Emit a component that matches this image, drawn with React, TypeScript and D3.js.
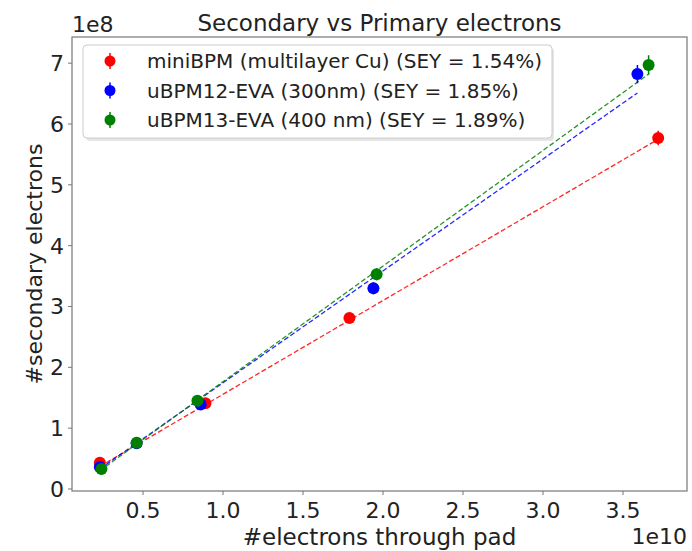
import React from 'react';
import * as d3 from 'd3';

// x in units of 1e10, y in units of 1e8
const redX = [0.23, 0.89, 1.79, 3.72];
const redY = [0.43, 1.41, 2.81, 5.77];
const redErr = [0.03, 0.05, 0.08, 0.12];

const blueX = [0.23, 0.46, 0.86, 1.94, 3.59];
const blueY = [0.36, 0.75, 1.39, 3.30, 6.82];
const blueErr = [0.03, 0.04, 0.06, 0.1, 0.15];

const greenX = [0.24, 0.46, 0.84, 1.96, 3.66];
const greenY = [0.33, 0.76, 1.45, 3.53, 6.97];
const greenErr = [0.03, 0.04, 0.06, 0.1, 0.16];

// fitted lines, endpoints
const redFit = [[0.23, 0.37], [3.72, 5.75]];
const blueFit = [[0.23, 0.33], [3.59, 6.51]];
const greenFit = [[0.23, 0.30], [3.66, 6.82]];

const labels = [
  'miniBPM (multilayer Cu) (SEY = 1.54%)',
  'uBPM12-EVA (300nm) (SEY = 1.85%)',
  'uBPM13-EVA (400 nm) (SEY = 1.89%)',
];

const xTicks = [0.5, 1.0, 1.5, 2.0, 2.5, 3.0, 3.5];
const yTicks = [0, 1, 2, 3, 4, 5, 6, 7];

const W = 692, H = 551;
const left = 72, right = 687, top = 37, bottom = 491;
const font = 'DejaVu Sans, sans-serif';
const txt = '#222';
const frame = '#777';

const x = d3.scaleLinear().domain([0.056, 3.9]).range([left, right]);
const y = d3.scaleLinear().domain([-0.033, 7.43]).range([bottom, top]);
const line = d3.line<number[]>().x(d => x(d[0])).y(d => y(d[1]));

const series = [
  { xs: redX, ys: redY, err: redErr, fit: redFit, color: 'red' },
  { xs: blueX, ys: blueY, err: blueErr, fit: blueFit, color: 'blue' },
  { xs: greenX, ys: greenY, err: greenErr, fit: greenFit, color: 'green' },
];

export default function App() {
  return (
    <svg width={W} height={H} style={{ position: 'absolute', left: 0, top: 0, background: '#fff' }}>
      <rect x={0} y={0} width={W} height={H} fill="#fff" />
      <text x={(left + right) / 2} y={31} textAnchor="middle" fontFamily={font} fontSize={23} fill={txt}>
        Secondary vs Primary electrons
      </text>
      <text x={left} y={32} fontFamily={font} fontSize={22} fill={txt}>1e8</text>

      {/* fit lines */}
      {series.map((s, i) => (
        <path key={'f' + i} d={line(s.fit) || ''} fill="none" stroke={s.color}
          strokeWidth={1.3} strokeDasharray="5 2.5" opacity={0.85} />
      ))}

      {/* points with error bars */}
      {series.map((s, i) => (
        <g key={'p' + i}>
          {s.xs.map((xv, j) => (
            <g key={j}>
              <line x1={x(xv)} x2={x(xv)} y1={y(s.ys[j] - s.err[j])} y2={y(s.ys[j] + s.err[j])}
                stroke={s.color} strokeWidth={1.5} />
              <circle cx={x(xv)} cy={y(s.ys[j])} r={6} fill={s.color} />
            </g>
          ))}
        </g>
      ))}

      {/* frame */}
      <rect x={left} y={top} width={right - left} height={bottom - top} fill="none" stroke={frame} strokeWidth={1.2} />

      {/* x axis */}
      {xTicks.map(t => (
        <g key={'x' + t}>
          <line x1={x(t)} x2={x(t)} y1={bottom} y2={bottom + 4} stroke={frame} />
          <text x={x(t)} y={518} textAnchor="middle" fontFamily={font} fontSize={22} fill={txt}>
            {t.toFixed(1)}
          </text>
        </g>
      ))}
      <text x={(left + right) / 2} y={545} textAnchor="middle" fontFamily={font} fontSize={23} fill={txt}>
        #electrons through pad
      </text>
      <text x={right} y={544} textAnchor="end" fontFamily={font} fontSize={22} fill={txt}>1e10</text>

      {/* y axis */}
      {yTicks.map(t => (
        <g key={'y' + t}>
          <line x1={left - 4} x2={left} y1={y(t)} y2={y(t)} stroke={frame} />
          <text x={left - 8} y={y(t) + 8} textAnchor="end" fontFamily={font} fontSize={22} fill={txt}>
            {t}
          </text>
        </g>
      ))}
      <text transform={`translate(42,${(top + bottom) / 2}) rotate(-90)`} textAnchor="middle"
        fontFamily={font} fontSize={22} fill={txt}>
        #secondary electrons
      </text>

      {/* legend */}
      <rect x={86} y={48} width={468} height={93} rx={4} fill="#ccc" opacity={0.5} />
      <rect x={83} y={45} width={469} height={93} rx={4} fill="#fff" stroke="#ccc" strokeWidth={1} />
      {series.map((s, i) => {
        const cy = 61 + i * 29.5;
        return (
          <g key={'l' + i}>
            <line x1={110} x2={110} y1={cy - 8} y2={cy + 8} stroke={s.color} strokeWidth={1.5} />
            <circle cx={110} cy={cy} r={5.5} fill={s.color} />
            <text x={147} y={cy + 7} fontFamily={font} fontSize={20} fill={txt}>{labels[i]}</text>
          </g>
        );
      })}
    </svg>
  );
}
